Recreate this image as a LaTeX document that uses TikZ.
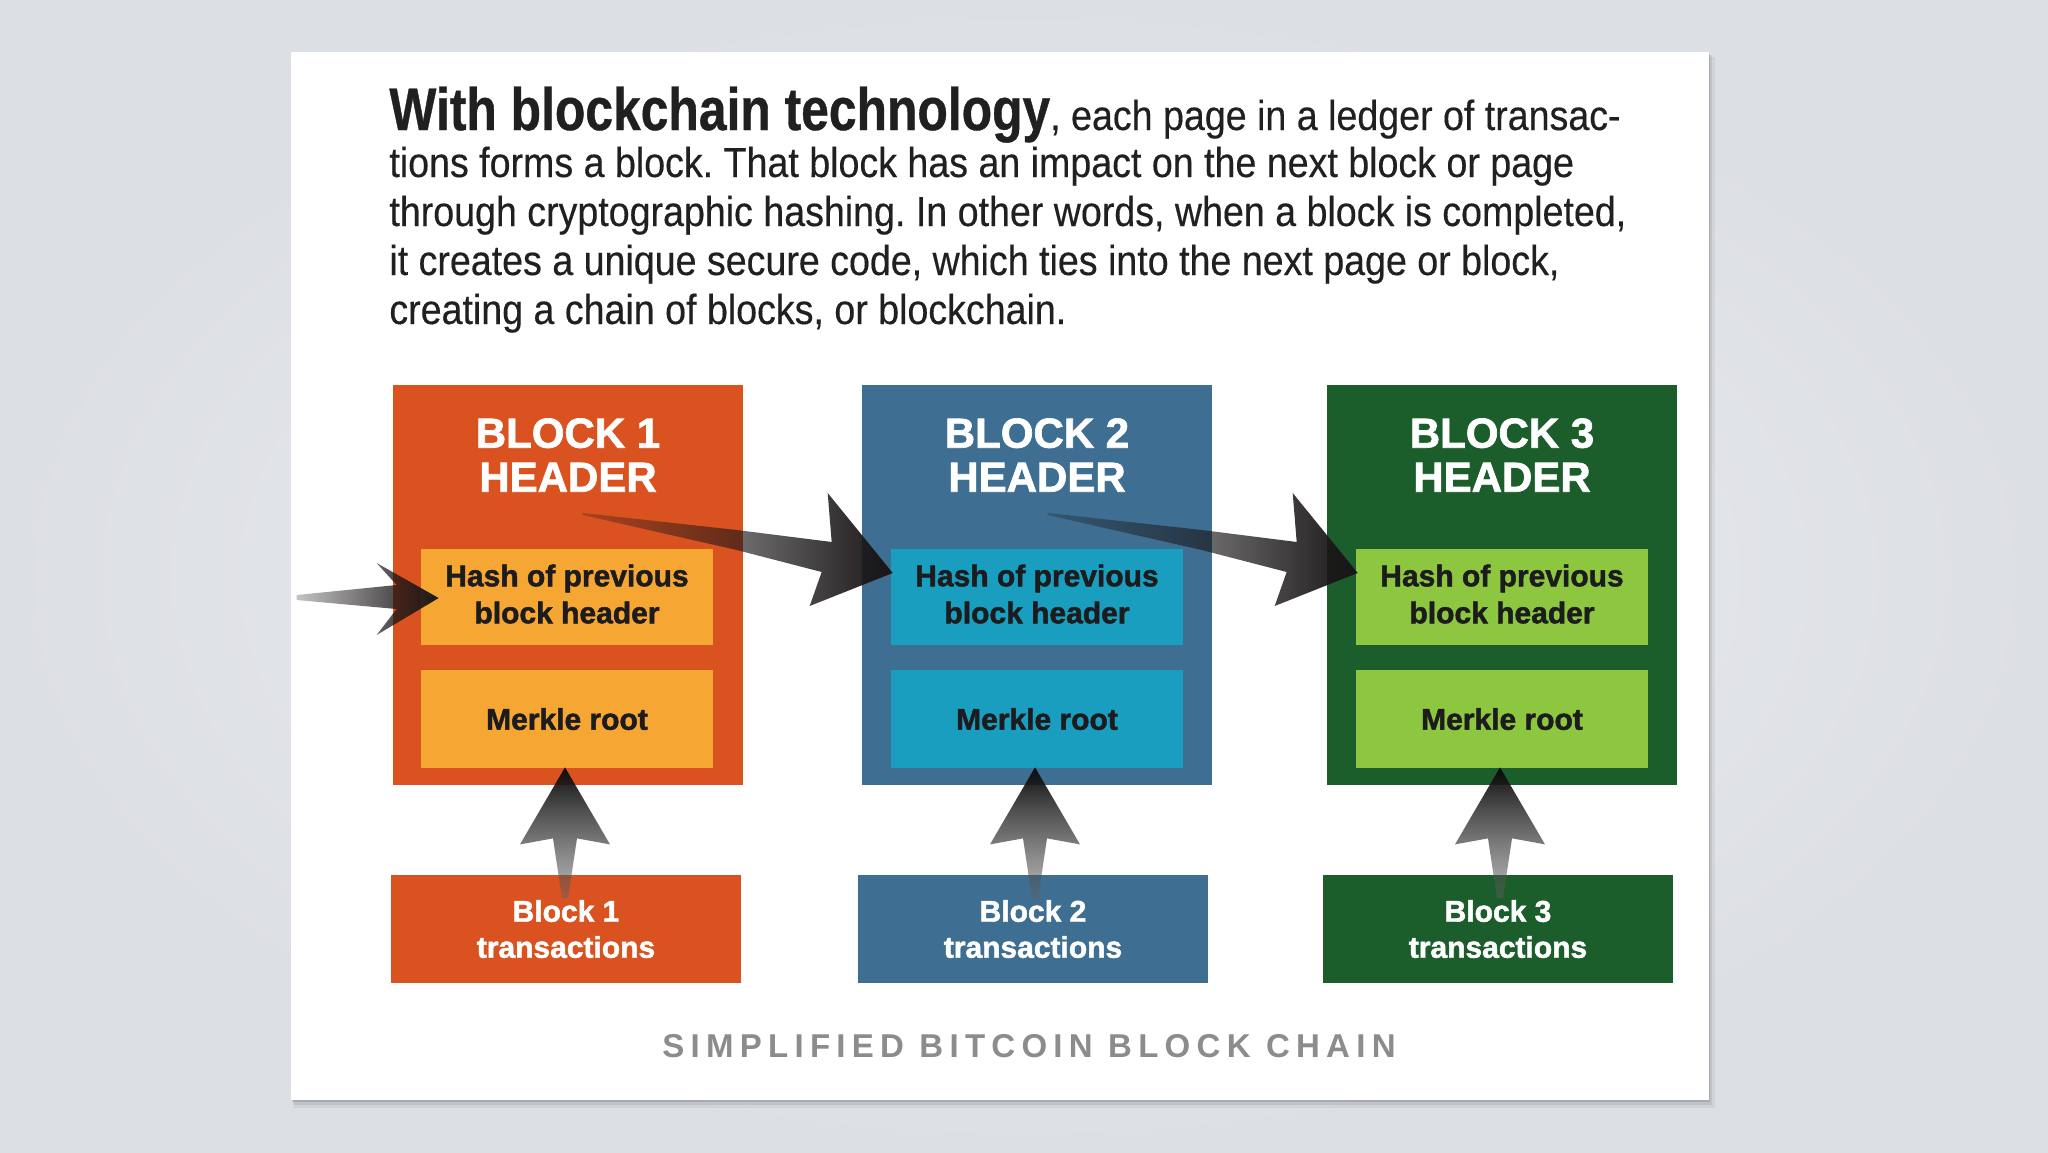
\documentclass[tikz,border=0pt]{standalone}
\usepackage{fontspec}
\setmainfont{Liberation Sans}
\newfontfamily\bodyfont{Liberation Sans}[FakeStretch=0.895, FakeBold=0.3]
\newfontfamily\leadfont{Liberation Sans}[FakeStretch=0.83, FakeBold=0.6]
\newfontfamily\heavyfont{Liberation Sans}[FakeBold=1.6]
\newfontfamily\footfont{Liberation Sans}[LetterSpace=19]
\usetikzlibrary{fadings,calc}
\definecolor{bgin}{RGB}{236,238,241}
\definecolor{bgout}{RGB}{220,223,228}
\definecolor{orB}{RGB}{219,82,33}
\definecolor{orL}{RGB}{246,166,50}
\definecolor{blB}{RGB}{62,110,145}
\definecolor{blL}{RGB}{26,158,192}
\definecolor{grB}{RGB}{27,94,43}
\definecolor{grL}{RGB}{141,198,63}
\definecolor{txtdark}{RGB}{28,28,30}
\definecolor{bodytext}{RGB}{32,32,32}
\definecolor{footgray}{RGB}{140,140,140}
\definecolor{arrowdark}{RGB}{26,22,24}
\tikzfading[name=chainfade, left color=transparent!75, middle color=transparent!5, right color=transparent!0]
\tikzfading[name=upfade, top color=transparent!0, bottom color=transparent!55]
\begin{document}
\frenchspacing
\begin{tikzpicture}[x=0.5pt,y=-0.5pt,
  blockbox/.style={minimum width=175pt, minimum height=200pt, inner sep=0},
  hashbox/.style={minimum width=146pt, minimum height=48pt, inner sep=0, align=center, text=txtdark,
    font=\heavyfont\bfseries\fontsize{15}{18.5}\selectfont},
  merklebox/.style={hashbox, minimum height=49pt},
  txbox/.style={minimum width=175pt, minimum height=54pt, inner sep=0, align=center, text=white,
    font=\heavyfont\bfseries\fontsize{15}{18}\selectfont},
  hdr/.style={text=white, align=center, inner sep=0, font=\heavyfont\bfseries\fontsize{21}{22}\selectfont},
  bodyline/.style={anchor=base west, inner sep=0, text=bodytext, font=\bodyfont\fontsize{21}{24}\selectfont},
  chainarrow/.style={fill=arrowdark, path fading=chainfade},
  uparrow/.style={top color=black!95, bottom color=black!62, path fading=upfade},
]
\useasboundingbox (0,0) rectangle (2048,1152);
\shade[inner color=bgin, outer color=bgout] (0,0) rectangle (2048,1152);
% card shadow
\fill[black, opacity=0.05] (294,57) rectangle (1715,1108);
\fill[black, opacity=0.08] (293,55) rectangle (1712,1105);
\fill[black, opacity=0.12] (292,54) rectangle (1710,1102);
\node[fill=white, minimum width=709pt, minimum height=524pt, inner sep=0] (card) at (1000,576) {};

% intro text
\node[bodyline] (t1) at (389,130) {{\leadfont\bfseries\fontsize{30}{30}\selectfont With blockchain technology}, each page in a ledger of transac-};
\node[bodyline] (t2) at (389,177) {tions forms a block. That block has an impact on the next block or page};
\node[bodyline] (t3) at (389,226) {through cryptographic hashing. In other words, when a block is completed,};
\node[bodyline] (t4) at (389,275) {it creates a unique secure code, which ties into the next page or block,};
\node[bodyline] (t5) at (389,324) {creating a chain of blocks, or blockchain.};

% blocks
\node[blockbox, fill=orB] (blk1) at (568,585) {};
\node[blockbox, fill=blB] (blk2) at (1037,585) {};
\node[blockbox, fill=grB] (blk3) at (1502,585) {};
\node[hdr] (hd1) at (568,455) {BLOCK 1\\HEADER};
\node[hdr] (hd2) at (1037,455) {BLOCK 2\\HEADER};
\node[hdr] (hd3) at (1502,455) {BLOCK 3\\HEADER};
\node[hashbox, fill=orL] (hash1) at (567,597) {Hash of previous\\block header\vphantom{p}};
\node[hashbox, fill=blL] (hash2) at (1037,597) {Hash of previous\\block header\vphantom{p}};
\node[hashbox, fill=grL] (hash3) at (1502,597) {Hash of previous\\block header\vphantom{p}};
\node[merklebox, fill=orL] (mk1) at (567,719) {Merkle root};
\node[merklebox, fill=blL] (mk2) at (1037,719) {Merkle root};
\node[merklebox, fill=grL] (mk3) at (1502,719) {Merkle root};
\node[txbox, fill=orB] (tx1) at (566,929) {Block 1\\transactions};
\node[txbox, fill=blB] (tx2) at (1033,929) {Block 2\\transactions};
\node[txbox, fill=grB] (tx3) at (1498,929) {Block 3\\transactions};

% incoming arrow to block 1
\begin{scope}[shift={(hash1.west)}]
\fill[chainarrow] (-124,-2) -- (-24,-12) -- (-44,-34) -- (18,1) -- (-44,38) -- (-24,12) -- (-124,3) -- cycle;
\end{scope}
% chain arrows
\foreach \h in {hash2,hash3}{
\begin{scope}[shift={(\h.west)}]
\fill[chainarrow] (-308,-84) -- (-154,-67) -- (-59,-55) -- (-63,-104) -- (2,-24) -- (-81,9) -- (-69,-25) -- (-154,-47) -- (-308,-82) -- cycle;
\end{scope}
}
% up arrows
\foreach \m in {mk1,mk2,mk3}{
\begin{scope}[shift={(\m.south)}]
\shade[uparrow] (-2,-1) -- (43,76) -- (10,70) -- (1,130) -- (-5,130) -- (-14,70) -- (-47,76) -- cycle;
\end{scope}
}

% footer
\node[anchor=base, inner sep=0, text=footgray, font=\footfont\bfseries\fontsize{16.5}{18}\selectfont] (foot) at (1029,1057) {SIMPLIFIED BITCOIN BLOCK CHAIN};
\end{tikzpicture}
\end{document}
